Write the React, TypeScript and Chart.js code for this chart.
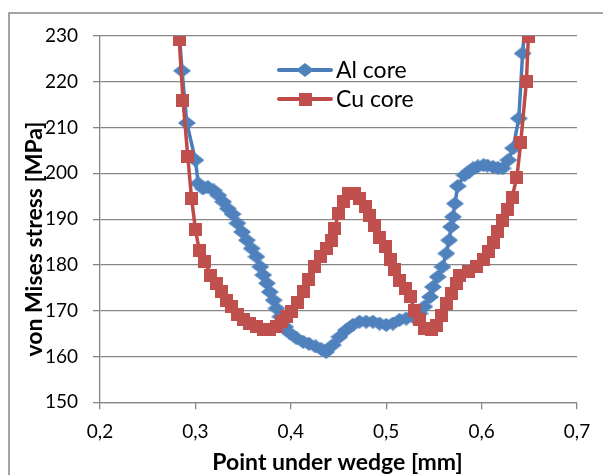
import React, { useEffect, useRef } from "react";
import { Chart, registerables } from "chart.js";

Chart.register(...registerables);

// ---- data ----
const alX = [0.281, 0.286, 0.291, 0.300, 0.303, 0.308, 0.313, 0.319, 0.324, 0.329, 0.334, 0.339, 0.344, 0.349, 0.354, 0.359, 0.364, 0.368, 0.371, 0.375, 0.378, 0.382, 0.385, 0.389, 0.394, 0.399, 0.406, 0.413, 0.419, 0.426, 0.432, 0.437, 0.444, 0.451, 0.458, 0.465, 0.472, 0.479, 0.486, 0.493, 0.500, 0.507, 0.514, 0.521, 0.528, 0.535, 0.540, 0.546, 0.549, 0.554, 0.559, 0.563, 0.566, 0.568, 0.570, 0.572, 0.575, 0.582, 0.587, 0.591, 0.596, 0.602, 0.606, 0.612, 0.617, 0.622, 0.628, 0.633, 0.639, 0.643, 0.647];
const alY = [236.7, 222.4, 211.0, 202.9, 197.8, 196.7, 197.0, 196.3, 195.2, 193.8, 192.3, 191.1, 189.1, 187.2, 185.4, 183.6, 181.8, 179.6, 177.8, 176.0, 174.1, 172.3, 170.5, 168.7, 166.5, 165.1, 164.0, 163.2, 162.8, 162.2, 161.6, 161.0, 162.5, 164.3, 165.8, 166.9, 167.6, 167.6, 167.6, 167.2, 166.9, 167.2, 168.0, 168.3, 168.7, 169.4, 170.9, 173.0, 175.2, 177.4, 179.6, 182.5, 185.4, 188.3, 190.5, 193.4, 197.2, 199.6, 200.4, 201.1, 201.5, 201.8, 201.7, 201.4, 201.2, 201.1, 202.9, 205.5, 212.0, 226.2, 236.7];

const cuX = [0.283, 0.287, 0.292, 0.296, 0.300, 0.304, 0.310, 0.316, 0.322, 0.327, 0.333, 0.338, 0.344, 0.350, 0.357, 0.364, 0.371, 0.378, 0.385, 0.390, 0.396, 0.401, 0.407, 0.413, 0.419, 0.425, 0.431, 0.437, 0.443, 0.446, 0.450, 0.455, 0.460, 0.467, 0.472, 0.478, 0.483, 0.488, 0.493, 0.499, 0.504, 0.509, 0.514, 0.520, 0.525, 0.530, 0.535, 0.540, 0.547, 0.553, 0.558, 0.563, 0.568, 0.574, 0.577, 0.586, 0.595, 0.602, 0.607, 0.612, 0.617, 0.622, 0.627, 0.632, 0.637, 0.641, 0.647, 0.649, 0.652];
const cuY = [229.2, 216.0, 203.7, 194.5, 187.8, 183.2, 180.7, 177.8, 176.0, 174.1, 172.3, 170.9, 169.1, 168.0, 167.2, 166.6, 165.9, 165.8, 166.5, 167.6, 168.7, 169.8, 171.8, 174.3, 176.9, 179.6, 181.8, 183.6, 185.4, 188.0, 191.2, 193.8, 195.6, 195.6, 194.5, 192.7, 190.9, 188.7, 186.1, 184.0, 181.1, 178.9, 176.7, 174.9, 173.0, 170.1, 168.0, 166.1, 165.8, 166.8, 168.9, 171.5, 173.7, 176.0, 177.8, 178.5, 179.6, 181.1, 182.9, 185.0, 187.2, 189.8, 192.0, 194.8, 199.2, 206.7, 220.1, 229.8, 240.0];

const seriesNames = ["Al core", "Cu core"];
const xTitle = "Point under wedge [mm]";
const yTitle = "von Mises stress [MPa]";
const xMin = 0.2, xMax = 0.7, xStep = 0.1;
const yMin = 150, yMax = 230, yStep = 10;

const BLUE_LINE = "#4A7EBB";
const BLUE_MARK = "#4F81BD";
const RED_LINE = "#BE4B48";
const RED_MARK = "#C0504D";
const GRID = "#868686";
const FONT = "Lato, 'Open Sans', sans-serif";

function makeDiamond(): HTMLCanvasElement {
  const c = document.createElement("canvas");
  c.width = 18; c.height = 14;
  const g = c.getContext("2d")!;
  g.fillStyle = BLUE_MARK;
  g.beginPath();
  g.moveTo(0, 7); g.lineTo(9, 0); g.lineTo(18, 7); g.lineTo(9, 14);
  g.closePath(); g.fill();
  return c;
}
function makeSquare(): HTMLCanvasElement {
  const c = document.createElement("canvas");
  c.width = 13; c.height = 13;
  const g = c.getContext("2d")!;
  g.fillStyle = RED_MARK;
  g.fillRect(0, 0, 13, 13);
  return c;
}

export default function App() {
  const ref = useRef<HTMLCanvasElement>(null);
  useEffect(() => {
    const canvas = ref.current!;
    const diamond = makeDiamond();
    const square = makeSquare();

    const decor = {
      id: "decor",
      beforeDraw(chart: any) {
        const ctx = chart.ctx;
        ctx.save();
        ctx.fillStyle = "#fff";
        ctx.fillRect(0, 0, chart.width, chart.height);
        ctx.strokeStyle = GRID;
        ctx.lineWidth = 1.5;
        ctx.beginPath();
        ctx.moveTo(9, chart.height + 5);
        ctx.lineTo(9, 13);
        ctx.lineTo(chart.width + 5, 13);
        ctx.stroke();
        ctx.restore();
      },
      afterDraw(chart: any) {
        const ctx = chart.ctx;
        const a = chart.chartArea;
        ctx.save();
        ctx.fillStyle = "#000";
        // x title
        ctx.font = `bold 23px ${FONT}`;
        ctx.textAlign = "center";
        ctx.textBaseline = "alphabetic";
        ctx.fillText(xTitle, (a.left + a.right) / 2 - 1, 470);
        // y title
        ctx.save();
        ctx.translate(41.5, 239);
        ctx.rotate(-Math.PI / 2);
        ctx.fillText(yTitle, 0, 0);
        ctx.restore();
        // legend
        const rows = [
          { name: seriesNames[0], color: BLUE_LINE, img: diamond, y: 70 },
          { name: seriesNames[1], color: RED_LINE, img: square, y: 99 },
        ];
        ctx.font = `23px ${FONT}`;
        ctx.textAlign = "left";
        ctx.textBaseline = "middle";
        for (const r of rows) {
          ctx.strokeStyle = r.color;
          ctx.lineWidth = 4;
          ctx.lineCap = "round";
          ctx.beginPath();
          ctx.moveTo(279, r.y);
          ctx.lineTo(331, r.y);
          ctx.stroke();
          ctx.drawImage(r.img, 305 - r.img.width / 2, r.y - r.img.height / 2);
          ctx.fillStyle = "#000";
          ctx.fillText(r.name, 336, r.y + 1);
        }
        ctx.restore();
      },
    };

    const chart = new Chart(canvas, {
      type: "line",
      data: {
        datasets: [
          {
            label: seriesNames[0],
            data: alX.map((x, i) => ({ x, y: alY[i] })),
            borderColor: BLUE_LINE,
            backgroundColor: BLUE_MARK,
            borderWidth: 3.5,
            pointStyle: diamond as any,
            pointRadius: 6,
            tension: 0,
            order: 1,
          },
          {
            label: seriesNames[1],
            data: cuX.map((x, i) => ({ x, y: cuY[i] })),
            borderColor: RED_LINE,
            backgroundColor: RED_MARK,
            borderWidth: 3.5,
            pointStyle: square as any,
            pointRadius: 6,
            tension: 0,
            order: 0,
          },
        ],
      },
      options: {
        animation: false,
        responsive: false,
        events: [],
        layout: { padding: { left: 0, top: 36, right: 26, bottom: 0 } },
        plugins: { legend: { display: false }, tooltip: { enabled: false } },
        scales: {
          x: {
            type: "linear",
            min: xMin,
            max: xMax,
            ticks: {
              stepSize: xStep,
              color: "#000",
              font: { family: FONT, size: 19 },
              padding: 11,
              maxRotation: 0,
              callback: (v: any) => Number(v).toFixed(1).replace(".", ","),
            },
            grid: { drawOnChartArea: false, drawTicks: true, tickLength: 7, color: GRID, lineWidth: 1.3 },
            border: { color: GRID, width: 1.3 },
            afterFit: (s: any) => { s.height = 475 - 402.3; },
          },
          y: {
            min: yMin,
            max: yMax,
            ticks: {
              stepSize: yStep,
              color: "#000",
              font: { family: FONT, size: 19 },
              padding: 15,
            },
            grid: { drawTicks: true, tickLength: 7, color: GRID, lineWidth: 1.3 },
            border: { color: GRID, width: 1.3 },
            afterFit: (s: any) => { s.width = 100; },
          },
        },
      },
      plugins: [decor],
    } as any);
    return () => chart.destroy();
  }, []);
  return (
    <div style={{ position: "absolute", left: 0, top: 0, width: 603, height: 475 }}>
      <canvas ref={ref} width={603} height={475} style={{ display: "block" }} />
    </div>
  );
}
